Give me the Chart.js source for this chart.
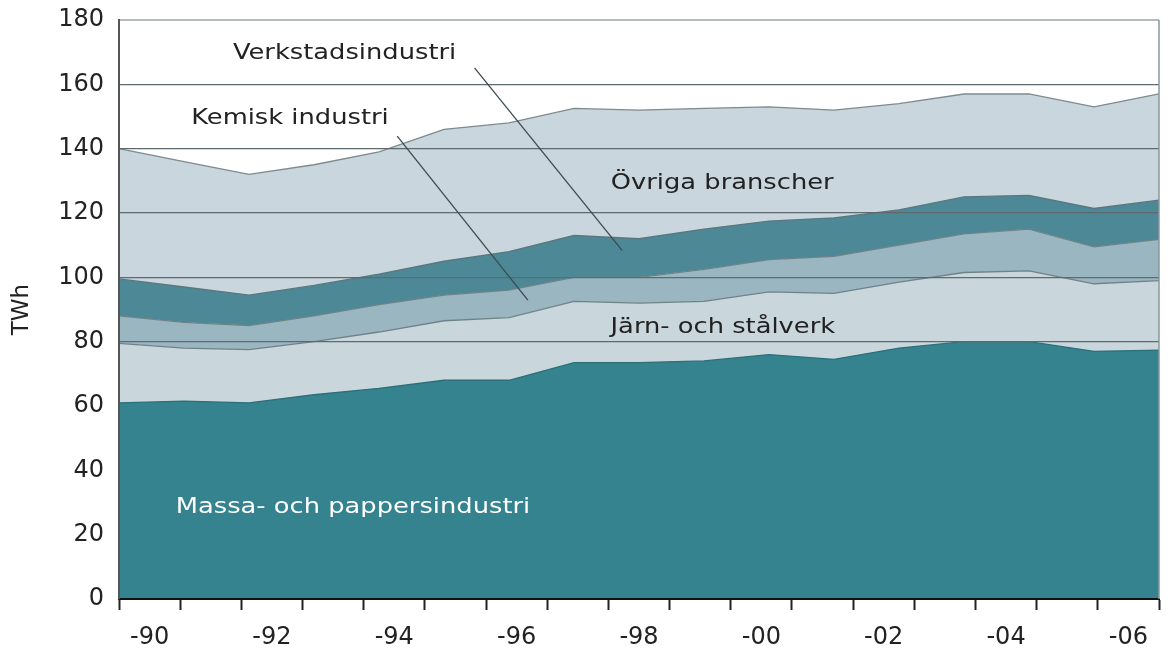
<!DOCTYPE html>
<html lang="sv">
<head>
    <meta charset="UTF-8">
    <title>Energianvändning i industrin</title>
    <script src="https://cdn.jsdelivr.net/npm/chart.js"></script>
    <style>
        body {
            margin: 0;
            background: #ffffff;
        }

        #wrap {
            width: 1167px;
            height: 650px;
        }
    </style>
</head>
<body>
    <div id="wrap">
        <canvas id="chart" width="1167" height="650"></canvas>
    </div>

    <script>
        // years (data axis) and the short labels shown under the axis
        const years = ['1990', '1991', '1992', '1993', '1994', '1995', '1996', '1997', '1998',
            '1999', '2000', '2001', '2002', '2003', '2004', '2005', '2006'];
        const tickLabels = ['-90', '-91', '-92', '-93', '-94', '-95', '-96', '-97', '-98',
            '-99', '-00', '-01', '-02', '-03', '-04', '-05', '-06'];
        const yTicks = [0, 20, 40, 60, 80, 100, 120, 140, 160, 180];

        // TWh per branch, stacked bottom to top
        const massa = [61, 61.5, 61, 63.5, 65.5, 68, 68, 73.5, 73.5, 74, 76, 74.5, 78, 80, 80, 77, 77.4];
        const jarn = [18.5, 16.5, 16.5, 16.5, 17.5, 18.5, 19.5, 19, 18.5, 18.5, 19.5, 20.5, 20.5, 21.5, 22, 21, 21.6];
        const kemisk = [8.5, 8, 7.5, 8, 8.5, 8, 8.5, 7.5, 8, 10, 10, 11.5, 11.5, 12, 13, 11.5, 12.8];
        const verkstad = [11.5, 11, 9.5, 9.5, 9.5, 10.5, 12, 13, 12, 12.5, 12, 12, 11, 11.5, 10.5, 11.9, 12.2];
        const ovriga = [40.5, 39, 37.5, 37.5, 38, 41, 40, 39.5, 40, 37.5, 35.5, 33.5, 33, 32, 31.5, 31.6, 33];

        const seriesNames = ['Massa- och pappersindustri', 'Järn- och stålverk', 'Kemisk industri',
            'Verkstadsindustri', 'Övriga branscher'];

        // text labels in the plot, placed in data units (year, TWh)
        const notes = [
            { text: 'Verkstadsindustri', year: 1993.47, value: 169.5, color: '#222' },
            { text: 'Kemisk industri', year: 1992.63, value: 149.5, color: '#222' },
            { text: 'Övriga branscher', year: 1999.28, value: 129.3, color: '#222' },
            { text: 'Järn- och stålverk', year: 1999.29, value: 84.6, color: '#222' },
            { text: 'Massa- och pappersindustri', year: 1993.6, value: 28.6, color: '#ffffff' }
        ];
        const leaders = [
            { from: [1995.47, 165.1], to: [1997.74, 108.4] },
            { from: [1994.28, 143.9], to: [1996.29, 92.9] }
        ];

        const fillColors = ['#34838f', '#c9d6dc', '#9ab6c0', '#4c8896', '#c9d6dd'];
        const lineColors = ['#2b6f7a', '#6f8288', '#6f8288', '#5a7780', '#7d8b90'];

        const labelPlugin = {
            id: 'labels',
            afterDraw(chart) {
                const ctx = chart.ctx;
                const xs = chart.scales.x;
                const ys = chart.scales.y;
                const px = (yr) => xs.getPixelForValue(yr - 1990);

                ctx.save();
                ctx.strokeStyle = '#3d4b50';
                ctx.lineWidth = 1.3;
                leaders.forEach(l => {
                    ctx.beginPath();
                    ctx.moveTo(px(l.from[0]), ys.getPixelForValue(l.from[1]));
                    ctx.lineTo(px(l.to[0]), ys.getPixelForValue(l.to[1]));
                    ctx.stroke();
                });

                ctx.font = '22px "DejaVu Sans"';
                ctx.textAlign = 'center';
                ctx.textBaseline = 'middle';
                notes.forEach(n => {
                    ctx.save();
                    ctx.translate(px(n.year), ys.getPixelForValue(n.value));
                    ctx.scale(1.17, 1);
                    ctx.fillStyle = n.color;
                    ctx.fillText(n.text, 0, 0);
                    ctx.restore();
                });

                // right edge of the plot
                ctx.strokeStyle = '#8a979c';
                ctx.lineWidth = 1.5;
                ctx.beginPath();
                ctx.moveTo(chart.chartArea.right, chart.chartArea.top);
                ctx.lineTo(chart.chartArea.right, chart.chartArea.bottom);
                ctx.stroke();
                ctx.restore();
            }
        };

        const values = [massa, jarn, kemisk, verkstad, ovriga];

        new Chart(document.getElementById('chart'), {
            type: 'line',
            data: {
                labels: years,
                datasets: values.map((v, i) => ({
                    label: seriesNames[i],
                    data: v,
                    fill: i === 0 ? 'origin' : '-1',
                    backgroundColor: fillColors[i],
                    borderColor: lineColors[i],
                    borderWidth: 1.3,
                    pointRadius: 0,
                    tension: 0
                }))
            },
            options: {
                responsive: false,
                animation: false,
                layout: { padding: { left: 0, right: 8, top: 20, bottom: 0 } },
                plugins: {
                    legend: { display: false },
                    tooltip: { enabled: false }
                },
                scales: {
                    x: {
                        display: false,
                        offset: false
                    },
                    xt: {
                        type: 'category',
                        position: 'bottom',
                        labels: tickLabels,
                        offset: true,
                        afterFit: (s) => { s.height = 51; },
                        grid: {
                            offset: true,
                            drawOnChartArea: false,
                            tickLength: 11,
                            tickWidth: 2,
                            tickColor: '#222'
                        },
                        border: { display: true, color: '#111', width: 2, z: 2 },
                        ticks: {
                            autoSkip: false,
                            maxRotation: 0,
                            padding: 13,
                            color: '#222',
                            font: { family: 'DejaVu Sans', size: 24 },
                            callback: function (value, index) {
                                return index % 2 === 0 ? this.getLabelForValue(value) : '';
                            }
                        }
                    },
                    y: {
                        stacked: true,
                        min: 0,
                        max: 180,
                        afterFit: (s) => {
                            s.width = 119;
                            s.paddingTop = 0;
                            s.paddingBottom = 0;
                        },
                        afterBuildTicks: (s) => { s.ticks = yTicks.map(v => ({ value: v })); },
                        grid: {
                            z: 1,
                            drawTicks: false,
                            lineWidth: (c) => c.tick && c.tick.value === 180 ? 2 : 1.3,
                            color: (c) => {
                                const v = c.tick ? c.tick.value : 0;
                                if (v <= 60) return 'rgba(0,0,0,0)';
                                if (v === 180) return '#b4b9bb';
                                return '#5e6a6e';
                            }
                        },
                        border: { display: true, color: '#555', width: 2, z: 2 },
                        ticks: {
                            padding: 15,
                            color: '#222',
                            font: { family: 'DejaVu Sans', size: 24 }
                        },
                        title: {
                            display: true,
                            text: 'TWh',
                            color: '#222',
                            padding: { top: 8, bottom: 2 },
                            font: { family: 'DejaVu Sans', size: 23 }
                        }
                    }
                }
            },
            plugins: [labelPlugin]
        });
    </script>
</body>
</html>
